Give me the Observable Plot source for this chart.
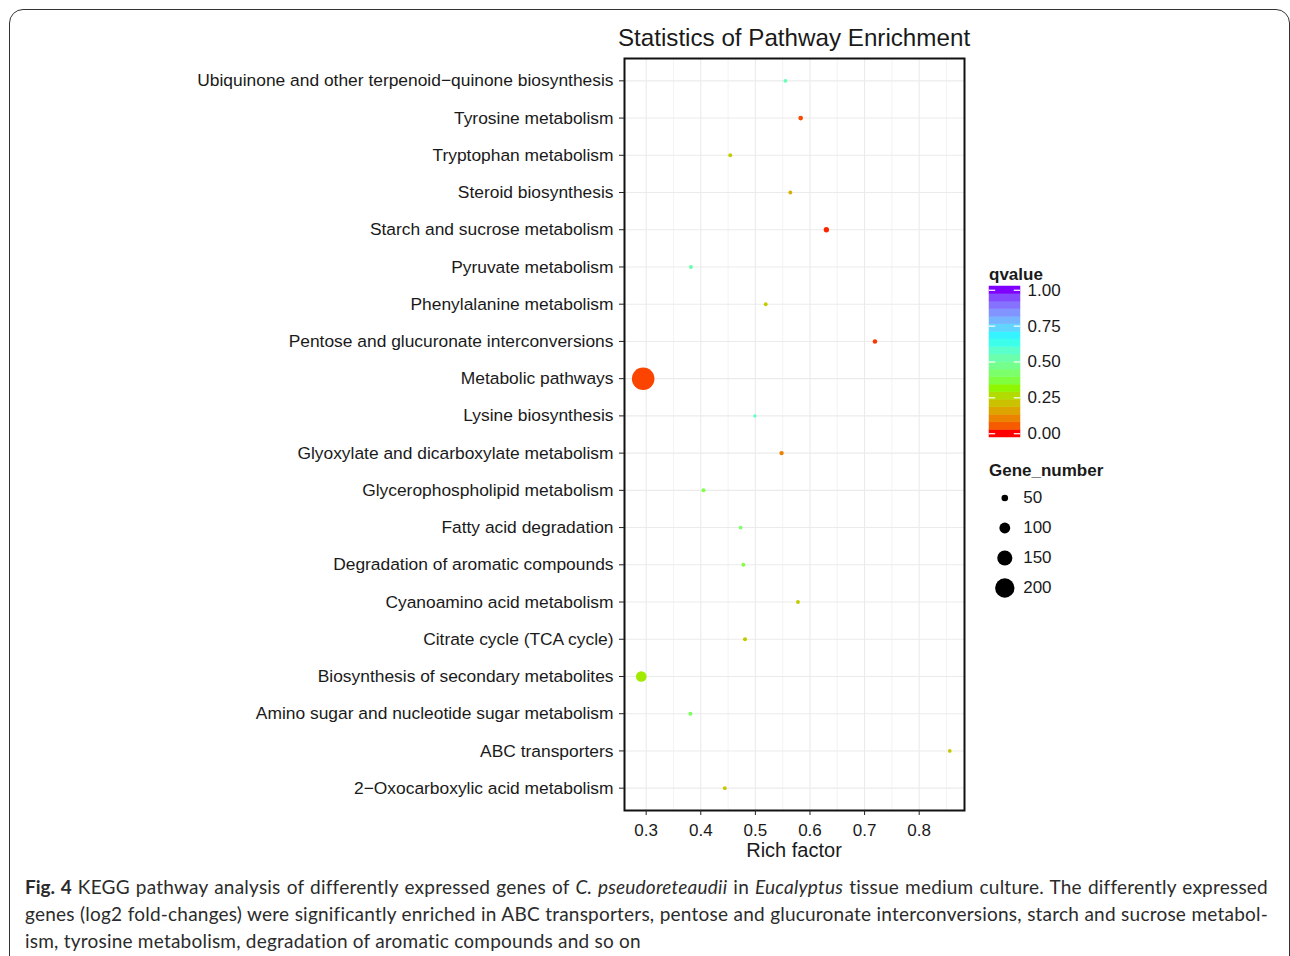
<!DOCTYPE html>
<html>
<head>
<meta charset="utf-8">
<script src="https://cdn.jsdelivr.net/npm/d3@7"></script>
<script src="https://cdn.jsdelivr.net/npm/@observablehq/plot@0.6"></script>
<style>
  html, body { margin: 0; padding: 0; background: #fff; }
  body { width: 1290px; height: 956px; position: relative; overflow: hidden; font-family: 'Liberation Sans', Arial, Helvetica, sans-serif; color: #1a1a1a; }
  .abs { position: absolute; }
  #border { left: 9px; top: 9px; width: 1281px; height: 1000px; box-sizing: border-box; border: 1.6px solid #333; border-radius: 14px; }
  #title { left: 594px; width: 400px; top: 26px; text-align: center; font-size: 24.2px; line-height: 24.2px; white-space: nowrap; }
  #xlabel { left: 694px; width: 200px; top: 840px; text-align: center; font-size: 20px; line-height: 20px; white-space: nowrap; }
  .legtitle { left: 989px; font-weight: bold; font-size: 17px; line-height: 17px; white-space: nowrap; }
  #caption { left: 25px; top: 872.5px; width: 1243px; font-family: Lato, 'Open Sans', sans-serif; font-size: 19px; letter-spacing: 0.22px; line-height: 27px; color: #2b2b2b; }
  #caption .j { text-align: justify; text-align-last: justify; white-space: nowrap; }
  #caption b { color: #2b2b2b; letter-spacing: 0; }
</style>
</head>
<body>
<div id="border" class="abs"></div>
<div id="chart" class="abs" style="left:0;top:0"></div>
<div id="title" class="abs">Statistics of Pathway Enrichment</div>
<div id="xlabel" class="abs">Rich factor</div>
<div class="abs legtitle" style="top:265.6px">qvalue</div>
<div id="colorleg" class="abs" style="left:980px;top:276px"></div>
<div class="abs legtitle" style="top:462.3px">Gene_number</div>
<div id="sizeleg" class="abs" style="left:980px;top:483px"></div>
<div id="caption" class="abs">
  <div class="j"><b>Fig. 4</b> KEGG pathway analysis of differently expressed genes of <i>C. pseudoreteaudii</i> in <i>Eucalyptus</i> tissue medium culture. The differently expressed</div>
  <div class="j">genes (log2 fold-changes) were significantly enriched in ABC transporters, pentose and glucuronate interconversions, starch and sucrose metabol-</div>
  <div>ism, tyrosine metabolism, degradation of aromatic compounds and so on</div>
</div>
<script>
// ---- data ----
const pathways = [
  "Ubiquinone and other terpenoid\u2212quinone biosynthesis",
  "Tyrosine metabolism",
  "Tryptophan metabolism",
  "Steroid biosynthesis",
  "Starch and sucrose metabolism",
  "Pyruvate metabolism",
  "Phenylalanine metabolism",
  "Pentose and glucuronate interconversions",
  "Metabolic pathways",
  "Lysine biosynthesis",
  "Glyoxylate and dicarboxylate metabolism",
  "Glycerophospholipid metabolism",
  "Fatty acid degradation",
  "Degradation of aromatic compounds",
  "Cyanoamino acid metabolism",
  "Citrate cycle (TCA cycle)",
  "Biosynthesis of secondary metabolites",
  "Amino sugar and nucleotide sugar metabolism",
  "ABC transporters",
  "2\u2212Oxocarboxylic acid metabolism"
];
const richFactor = [0.555, 0.583, 0.454, 0.564, 0.630, 0.382, 0.519, 0.719, 0.2945, 0.499,
                    0.548, 0.405, 0.473, 0.478, 0.578, 0.481, 0.291, 0.381, 0.856, 0.444];
const geneNumber = [18, 28, 18, 18, 35, 20, 18, 26, 237, 12,
                    24, 20, 16, 18, 18, 20, 97, 20, 16, 18];
const qvalue     = [0.54, 0.035, 0.23, 0.18, 0.01, 0.53, 0.23, 0.02, 0.03, 0.56,
                    0.10, 0.38, 0.42, 0.37, 0.23, 0.23, 0.29, 0.40, 0.23, 0.22];

const xMajorTicks = [0.3, 0.4, 0.5, 0.6, 0.7, 0.8];
const xMinorTicks = [0.35, 0.45, 0.55, 0.65, 0.75, 0.85];
const qTicks = [0, 0.25, 0.5, 0.75, 1];
const sizeBreaks = [50, 100, 150, 200];
const colorStops = [0, 1/3, 2/3, 1];
const colorRange = ["#FF0000", "#80FF00", "#00FFFF", "#8000FF"];

// ---- derived tables ----
const data = pathways.map((p, i) => ({pathway: p, rich: richFactor[i], genes: geneNumber[i], q: qvalue[i]}));

const font = "'Liberation Sans', Arial, Helvetica, sans-serif";
const colorScale = {type: "linear", domain: colorStops, range: colorRange, interpolate: "lab"};
const rScale = {type: "linear", domain: [50, 200], range: [3.3, 9.7]};

const chart = Plot.plot({
  width: 980,
  height: 870,
  marginLeft: 624,
  marginRight: 16,
  marginTop: 58,
  marginBottom: 60,
  style: {fontFamily: font, fontSize: "17.4px", color: "#1a1a1a", background: "transparent", overflow: "visible"},
  x: {domain: [0.2603, 0.883]},
  y: {type: "point", domain: pathways, padding: 0.6, round: false},
  r: rScale,
  color: colorScale,
  marks: [
    Plot.ruleX(xMinorTicks, {stroke: "#ebebeb", strokeWidth: 0.6}),
    Plot.ruleX(xMajorTicks, {stroke: "#ebebeb", strokeWidth: 1.1}),
    Plot.ruleY(pathways, {y: d => d, stroke: "#ebebeb", strokeWidth: 1.1}),
    Plot.dot(data, {x: "rich", y: "pathway", r: "genes", fill: "q"}),
    Plot.frame({stroke: "#111", strokeWidth: 2}),
    Plot.axisY({tickSize: 5, tickPadding: 6, fontSize: 17.4, label: null, stroke: "#222", fill: "#1a1a1a"}),
    Plot.axisX(xMajorTicks, {tickSize: 5, tickPadding: 8, fontSize: 17, label: null, tickFormat: d3.format(".1f"), stroke: "#222", fill: "#1a1a1a"})
  ]
});
document.getElementById("chart").appendChild(chart);

// ---- colour bar legend ----
const nbin = 20;
const bins = d3.range(nbin).map(i => i / (nbin - 1));
const half = 0.5 / (nbin - 1);
const colorLeg = Plot.plot({
  width: 110,
  height: 171,
  marginLeft: 9,
  marginRight: 70,
  marginTop: 10,
  marginBottom: 10,
  style: {fontFamily: font, fontSize: "17px", color: "#1a1a1a", background: "transparent", overflow: "visible"},
  x: {domain: [0, 1], axis: null},
  y: {domain: [-half, 1 + half], axis: null},
  color: colorScale,
  marks: [
    Plot.rect(bins, {x1: 0, x2: 1, y1: d => d - half, y2: d => d + half, fill: d => d, stroke: d => d, strokeWidth: 0.5}),
    Plot.ruleY(qTicks, {x1: 0, x2: 0.2, stroke: "white", strokeWidth: 1.2}),
    Plot.ruleY(qTicks, {x1: 0.8, x2: 1, stroke: "white", strokeWidth: 1.2}),
    Plot.text(qTicks, {x: 1, y: d => d, text: d => d3.format(".2f")(d), dx: 7, textAnchor: "start", fontSize: 17, fill: "#1a1a1a"})
  ]
});
document.getElementById("colorleg").appendChild(colorLeg);

// ---- size legend ----
const sizeLeg = Plot.plot({
  width: 110,
  height: 120,
  margin: 0,
  style: {fontFamily: font, fontSize: "17px", color: "#1a1a1a", background: "transparent", overflow: "visible"},
  x: {domain: [0, 110], range: [0, 110], axis: null},
  y: {type: "point", domain: sizeBreaks, range: [14.5, 104.5], padding: 0, round: false, axis: null},
  r: rScale,
  marks: [
    Plot.dot(sizeBreaks, {x: 24.3, y: d => d, r: d => d, fill: "black"}),
    Plot.text(sizeBreaks, {x: 42.7, y: d => d, text: d => String(d), textAnchor: "start", fontSize: 17, fill: "#1a1a1a"})
  ]
});
document.getElementById("sizeleg").appendChild(sizeLeg);
</script>
</body>
</html>
